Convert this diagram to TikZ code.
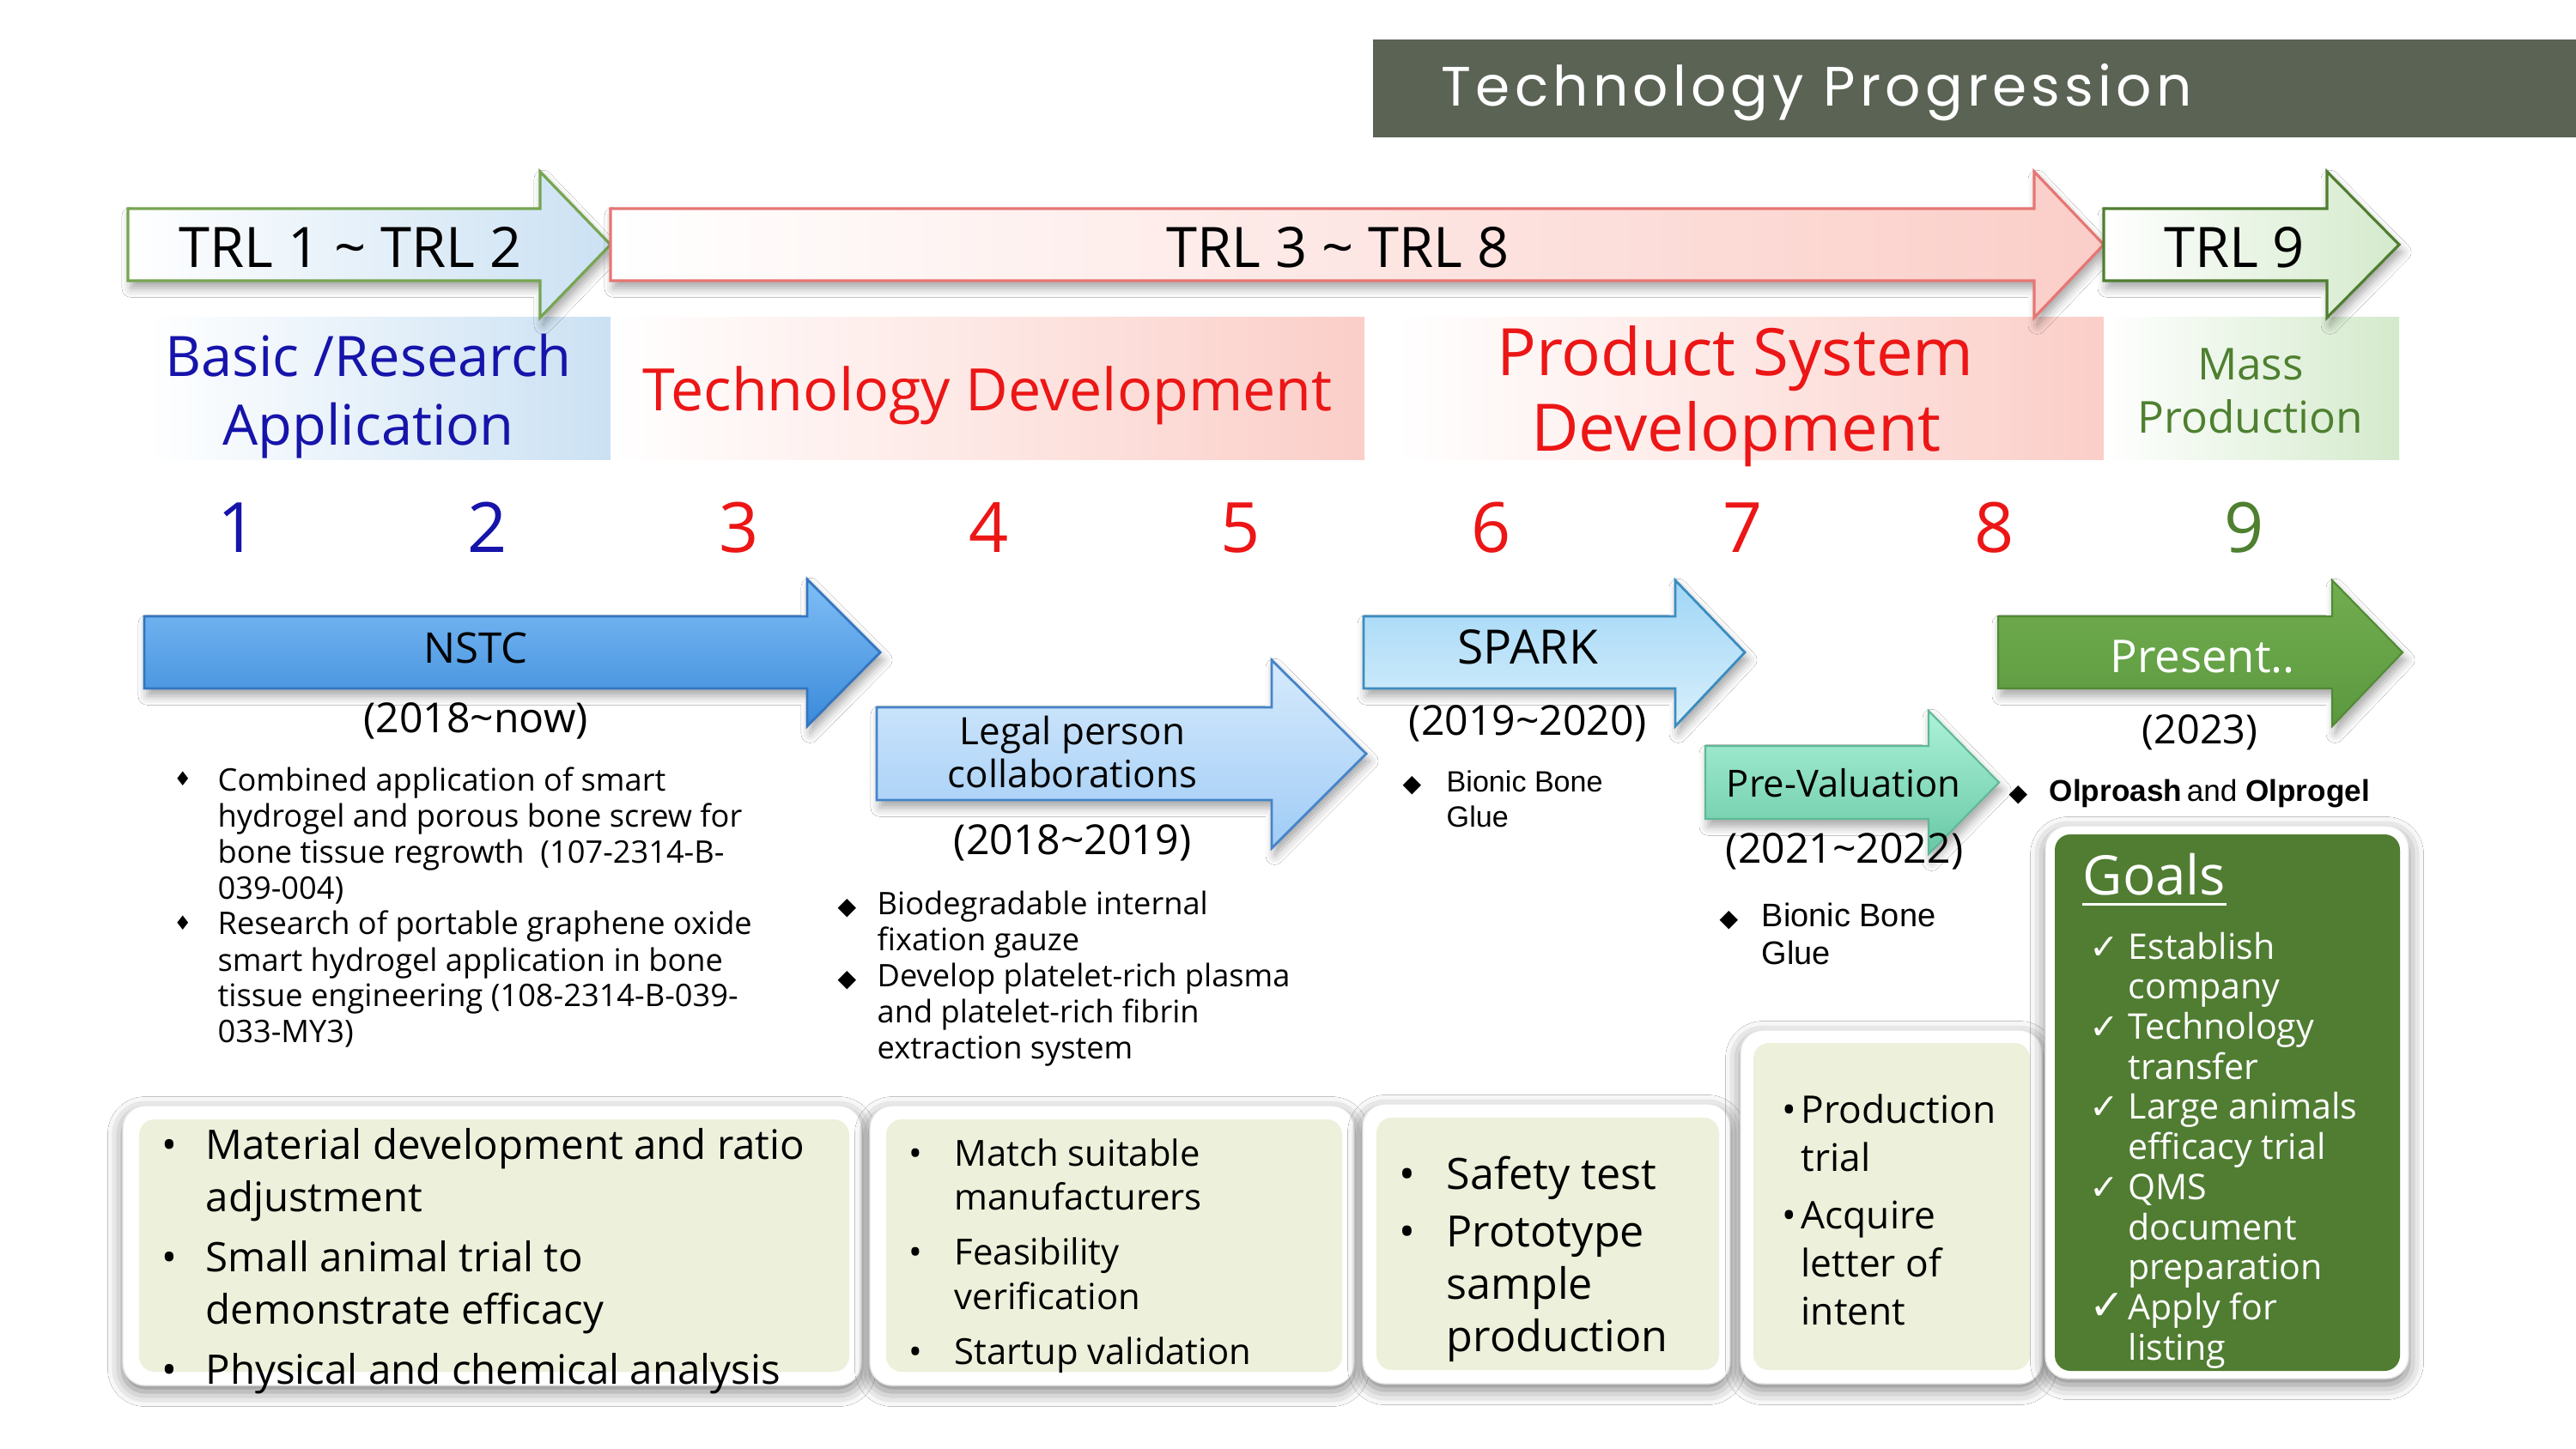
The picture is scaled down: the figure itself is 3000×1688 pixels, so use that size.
\documentclass[tikz,border=0pt]{standalone}
\usepackage{fontspec}
\setmainfont{Open Sans}
\newfontfamily\arialf{Liberation Sans}
\newfontfamily\titlefont[LetterSpace=8]{Poppins}
\newfontfamily\symf{DejaVu Sans}
\usetikzlibrary{shadows.blur}

\definecolor{barcol}{RGB}{90,99,84}
\definecolor{txtblue}{RGB}{22,20,170}
\definecolor{txtred}{RGB}{236,22,22}
\definecolor{txtgreen}{RGB}{78,128,48}
\definecolor{skyfill}{RGB}{203,225,243}
\definecolor{pinkfill}{RGB}{251,206,200}
\definecolor{mintfill}{RGB}{212,234,204}
\definecolor{trlgreen}{RGB}{118,165,80}
\definecolor{trlred}{RGB}{230,118,116}
\definecolor{trldkgreen}{RGB}{80,126,48}
\definecolor{nstctop}{RGB}{128,190,246}
\definecolor{nstcbot}{RGB}{58,138,218}
\definecolor{nstcline}{RGB}{52,118,192}
\definecolor{legaltop}{RGB}{214,234,252}
\definecolor{legalbot}{RGB}{160,204,246}
\definecolor{legalline}{RGB}{70,132,200}
\definecolor{sparktop}{RGB}{160,214,246}
\definecolor{sparkbot}{RGB}{216,239,252}
\definecolor{sparkline}{RGB}{60,140,190}
\definecolor{pvtop}{RGB}{172,242,216}
\definecolor{pvbot}{RGB}{104,200,166}
\definecolor{pvline}{RGB}{96,184,150}
\definecolor{prestop}{RGB}{114,174,80}
\definecolor{presbot}{RGB}{92,152,62}
\definecolor{presline}{RGB}{82,138,54}
\definecolor{cream}{RGB}{237,240,218}
\definecolor{goalgreen}{RGB}{80,125,50}

% block arrow: style, left, top, bottom, head base x, head top, head bottom, tip x
\newcommand\blockarrow[8]{%
  \path[#1] (#2,#3) -- (#5,#3) -- (#5,#6) -- (#8,{(#3+#4)/2}) -- (#5,#7) -- (#5,#4) -- (#2,#4) -- cycle;}

% list helpers
\newcommand\listentry[3]{\par\hangindent=#1\hangafter=1\noindent\makebox[#1][l]{#2}#3}
\newcommand\listgap[1]{\par\vspace{#1}}
\newcommand\listfont[2]{\fontsize{#1}{#2}\selectfont\lineskiplimit=-30pt\relax}
\newcommand\smalldia{\raisebox{1.6pt}{\symf\fontsize{6.5}{6.5}\selectfont ♦}}
\newcommand\dia{{\symf\fontsize{8}{8}\selectfont ◆}}
\newcommand\chk{{\symf ✓}}

\begin{document}
\begin{tikzpicture}[x=0.1mm,y=-0.1mm,
  lbl/.style={inner sep=0pt, anchor=base},
  lst/.style={inner sep=0pt, anchor=base west},
  arrowshadow/.style={blur shadow={shadow xshift=1pt, shadow yshift=-2.5pt, shadow blur radius=3pt, shadow opacity=35}},
  outerbox/.style={fill=white, draw=black!10, line width=0.4pt, rounded corners=2.6mm,
    blur shadow={shadow xshift=0pt, shadow yshift=-2pt, shadow blur radius=5pt, shadow opacity=50}},
  innerbox/.style={fill=cream, rounded corners=1.8mm},
  trl/.style={lbl, font=\fontsize{18.5}{22}\selectfont},
  yearlbl/.style={lbl, font=\fontsize{13.7}{16}\selectfont},
  numlbl/.style={lbl, font=\fontsize{23}{26}\selectfont}]

\useasboundingbox (0,0) rectangle (3000,1688);
\fill[white] (0,0) rectangle (3000,1688);

% ---------- title bar ----------
\fill[barcol] (1599,46) rectangle (3000,160);
\node[anchor=base west, inner sep=0pt, text=white, font=\titlefont\fontsize{18.4}{22}\selectfont] (title) at (1678,124) {Technology Progression};

% ---------- stage bands ----------
\fill[left color=white, right color=skyfill] (172,370) rectangle (711,536);
\fill[left color=white, right color=pinkfill] (711,370) rectangle (1589,536);
\fill[left color=white, right color=pinkfill] (1624,370) rectangle (2450,536);
\fill[left color=white, right color=mintfill] (2450,370) rectangle (2794,536);

% ---------- TRL arrows ----------
\blockarrow{arrowshadow, draw=trlgreen, line width=0.9pt, left color=white, right color=skyfill}{149}{243}{327}{629}{200}{370}{711}
\blockarrow{arrowshadow, draw=trlred, line width=0.9pt, left color=white, right color=pinkfill}{711}{243}{327}{2369}{200}{370}{2450}
\blockarrow{arrowshadow, draw=trldkgreen, line width=0.9pt, left color=white, right color=mintfill}{2450}{243}{327}{2710}{200}{370}{2794}

\node[trl] (trlA) at (408,312) {TRL 1 \textasciitilde{} TRL 2};
\node[trl] (trlB) at (1558,312) {TRL 3 \textasciitilde{} TRL 8};
\node[trl] (trlC) at (2602,312) {TRL 9};

% ---------- stage names ----------
\node[lbl, text=txtblue, font=\fontsize{18.5}{22}\selectfont] (basicA) at (429,439) {Basic /Research};
\node[lbl, text=txtblue, font=\fontsize{18.5}{22}\selectfont] (basicB) at (429,519) {Application};
\node[lbl, text=txtred, font=\fontsize{19.4}{23}\selectfont] (techdev) at (1150,479) {Technology Development};
\node[lbl, text=txtred, font=\fontsize{21.7}{26}\selectfont] (psdA) at (2021,438) {Product System};
\node[lbl, text=txtred, font=\fontsize{21.7}{26}\selectfont] (psdB) at (2022,526) {Development};
\node[lbl, text=txtgreen, font=\fontsize{14.6}{18}\selectfont] (massA) at (2621,443) {Mass};
\node[lbl, text=txtgreen, font=\fontsize{14.6}{18}\selectfont] (massB) at (2621,505) {Production};

% ---------- TRL numbers ----------
\foreach \n/\xx/\cc in {1/277/txtblue, 2/568/txtblue, 3/861/txtred, 4/1152/txtred, 5/1445/txtred,
                        6/1737/txtred, 7/2030/txtred, 8/2323/txtred, 9/2614/txtgreen}
  \node[numlbl, text=\cc] (num\n) at (\xx,644) {\n};

% ---------- programme arrows ----------
\blockarrow{arrowshadow, draw=nstcline, line width=0.8pt, top color=nstctop, bottom color=nstcbot}{168}{718}{802}{940}{675}{846}{1025}
\blockarrow{arrowshadow, draw=legalline, line width=0.8pt, top color=legaltop, bottom color=legalbot}{1021}{824}{932}{1481}{769}{988}{1591}
\blockarrow{arrowshadow, draw=sparkline, line width=0.8pt, top color=sparktop, bottom color=sparkbot}{1588}{718}{802}{1951}{676}{846}{2032}
\blockarrow{arrowshadow, draw=pvline, line width=0.6pt, top color=pvtop, bottom color=pvbot}{1986}{869}{954}{2246}{828}{995}{2328}
\blockarrow{arrowshadow, draw=presline, line width=0.6pt, top color=prestop, bottom color=presbot}{2327}{718}{802}{2716}{676}{846}{2798}

\node[lbl, font=\fontsize{14}{17}\selectfont] (nstc) at (554,772) {NSTC};
\node[yearlbl] (nstcyr) at (554,853) {(2018\textasciitilde now)};
\node[lbl, font=\fontsize{12.5}{15}\selectfont] (legalA) at (1249,867) {Legal person};
\node[lbl, font=\fontsize{12.5}{15}\selectfont] (legalB) at (1249,917) {collaborations};
\node[yearlbl] (legalyr) at (1249,995) {(2018\textasciitilde 2019)};
\node[lbl, font=\fontsize{15.7}{19}\selectfont] (spark) at (1779,773) {SPARK};
\node[yearlbl] (sparkyr) at (1779,856) {(2019\textasciitilde 2020)};
\node[lbl, font=\fontsize{12.4}{15}\selectfont] (preval) at (2147,928) {Pre-Valuation};
\node[yearlbl] (prevalyr) at (2148,1005) {(2021\textasciitilde 2022)};
\node[lbl, text=white, font=\fontsize{15}{18}\selectfont] (present) at (2565,783) {Present..};
\node[lbl, font=\fontsize{13.3}{16}\selectfont] (presentyr) at (2562,866) {(2023)};

% ---------- project notes ----------
\node[lst] (nstclist) at (202,921) {\parbox[t]{80mm}{\listfont{10.3}{11.95}%
  \listentry{5.1mm}{\smalldia}{Combined application of smart\\hydrogel and porous bone screw for\\bone tissue regrowth\ \ (107-2314-B-\\039-004)}%
  \listentry{5.1mm}{\smalldia}{Research of portable graphene oxide\\smart hydrogel application in bone\\tissue engineering (108-2314-B-039-\\033-MY3)}}};

\node[lst] (legallist) at (975,1065) {\parbox[t]{70mm}{\listfont{10.3}{11.95}%
  \listentry{4.6mm}{\dia}{Biodegradable internal\\fixation gauze}%
  \listentry{4.6mm}{\dia}{Develop platelet-rich plasma\\and platelet-rich fibrin\\extraction system}}};

\node[lst] (sparklist) at (1633,922) {\parbox[t]{40mm}{\arialf\listfont{9.7}{11.9}%
  \listentry{5.1mm}{\dia}{Bionic Bone\\Glue}}};

\node[lst] (prevallist) at (2002,1079) {\parbox[t]{40mm}{\arialf\listfont{10.8}{12.8}%
  \listentry{4.9mm}{\dia}{Bionic Bone\\Glue}}};

\node[lst] (presentlist) at (2339,933) {\makebox[4.7mm][l]{\dia}\arialf\fontsize{10}{12}\selectfont\textbf{Olproash}\,and \textbf{Olprogel}};

% ---------- task boxes ----------
\path[outerbox] (143,1288) rectangle (1003,1614);
\path[innerbox] (162,1304) rectangle (989,1598);
\path[outerbox] (1013,1288) rectangle (1577,1614);
\path[innerbox] (1032,1304) rectangle (1563,1598);
\path[outerbox] (1587,1286) rectangle (2015,1612);
\path[innerbox] (1603,1302) rectangle (2002,1596);
\path[outerbox] (2027,1200) rectangle (2378,1612);
\path[innerbox] (2042,1215) rectangle (2364,1596);
\path[outerbox] (2382,962) rectangle (2805,1606);
\path[innerbox, fill=goalgreen] (2393,972) rectangle (2795,1597);

\node[lst] (taskA) at (188,1350) {\parbox[t]{90mm}{\listfont{13.5}{17.4}%
  \listentry{5.1mm}{•}{Material development and ratio\\adjustment}\listgap{2.6pt}%
  \listentry{5.1mm}{•}{Small animal trial to\\demonstrate efficacy}\listgap{2.4pt}%
  \listentry{5.1mm}{•}{Physical and chemical analysis}}};

\node[lst] (taskB) at (1058,1358) {\parbox[t]{55mm}{\listfont{11.9}{14.7}%
  \listentry{5.3mm}{•}{Match suitable\\manufacturers}\listgap{3.6pt}%
  \listentry{5.3mm}{•}{Feasibility\\verification}\listgap{3.6pt}%
  \listentry{5.3mm}{•}{Startup validation}}};

\node[lst] (taskC) at (1629,1385) {\parbox[t]{40mm}{\listfont{14.3}{17.3}%
  \listentry{5.5mm}{•}{Safety test}\listgap{2pt}%
  \listentry{5.5mm}{•}{Prototype\\sample\\production}}};

\node[lst] (taskD) at (2075,1308) {\parbox[t]{32mm}{\listfont{12.6}{16}%
  \listentry{2.2mm}{•}{Production\\trial}\listgap{3pt}%
  \listentry{2.2mm}{•}{Acquire\\letter of\\intent}}};

% ---------- goals ----------
\node[anchor=base west, inner sep=0pt, text=white, font=\fontsize{18.1}{22}\selectfont] (goals) at (2425,1042) {Goals};
\draw[white, line width=0.8pt] ([yshift=-3.2pt]goals.base west) -- ([yshift=-3.2pt]goals.base east);

\node[lst, text=white] (goallist) at (2433,1117) {\parbox[t]{38mm}{\listfont{11.7}{13.3}%
  \listentry{4.5mm}{\chk}{Establish\\company}%
  \listentry{4.5mm}{\chk}{Technology\\transfer}%
  \listentry{4.5mm}{\chk}{Large animals\\efficacy trial}%
  \listentry{4.5mm}{\chk}{QMS\\document\\preparation}%
  \listentry{4.5mm}{{\symf\fontsize{14}{14}\selectfont ✓}}{Apply for\\listing}}};

\end{tikzpicture}
\end{document}
